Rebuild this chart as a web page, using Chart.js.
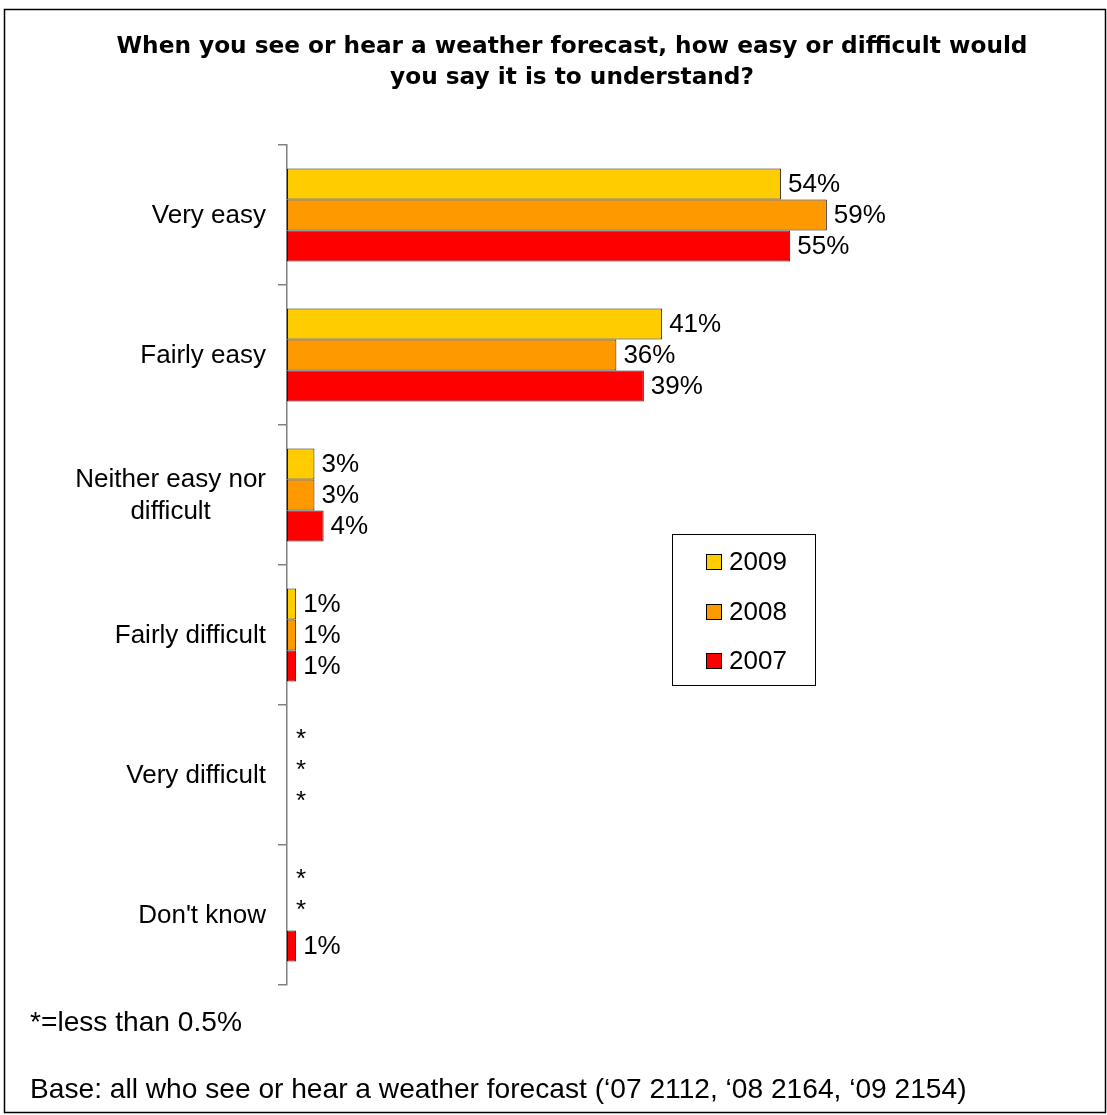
<!DOCTYPE html>
<html>
<head>
<meta charset="utf-8">
<script src="https://cdn.jsdelivr.net/npm/chart.js@4/dist/chart.umd.min.js"></script>
<style>
  html, body { margin: 0; padding: 0; background: #ffffff; }
  #wrap { width: 1107px; height: 1115px; position: relative; }
</style>
</head>
<body>
<div id="wrap"><canvas id="c" width="1107" height="1115"></canvas></div>
<script>
// ---- data ----
const categories = [
  ["Very easy"],
  ["Fairly easy"],
  ["Neither easy nor", "difficult"],
  ["Fairly difficult"],
  ["Very difficult"],
  ["Don't know"]
];
const seriesNames = ["2009", "2008", "2007"];
// 0 means less than 0.5% (shown as "*")
const values2009 = [54, 41, 3, 1, 0, 0];
const values2008 = [59, 36, 3, 1, 0, 0];
const values2007 = [55, 39, 4, 1, 0, 1];
const titleLines = [
  "When you see or hear a weather forecast, how easy or difficult would",
  "you say it is to understand?"
];
const noteText = "*=less than 0.5%";
const baseText = "Base: all who see or hear a weather forecast (\u201807 2112, \u201808 2164, \u201809 2154)";

const colors = ["#FFCC00", "#FF9900", "#FF0000"];
const FONT = "'Liberation Sans', Arial, sans-serif";
const TFONT = "'DejaVu Sans', Verdana, sans-serif";

function fitSize(ctx, text, family, weight, target) {
  ctx.font = weight + " 20px " + family;
  return 20 * target / ctx.measureText(text).width;
}

const decorPlugin = {
  id: 'decor',
  afterDraw(chart) {
    const ctx = chart.ctx;
    const yScale = chart.scales.y;
    ctx.save();
    // outer frame
    ctx.strokeStyle = '#000';
    ctx.lineWidth = 1.5;
    ctx.strokeRect(4.5, 9.5, 1101, 1103);

    // title
    ctx.fillStyle = '#000';
    const ts = fitSize(ctx, titleLines[0], TFONT, 'bold', 911);
    ctx.font = "bold " + ts.toFixed(2) + "px " + TFONT;
    ctx.textAlign = 'center';
    ctx.textBaseline = 'middle';
    ctx.fillText(titleLines[0], 572, 47);
    ctx.fillText(titleLines[1], 572, 78);

    // category labels
    ctx.font = "26px " + FONT;
    const rightEdge = 266;
    categories.forEach((lines, i) => {
      const cy = yScale.getPixelForValue(i);
      let widest = 0;
      lines.forEach(l => { widest = Math.max(widest, ctx.measureText(l).width); });
      const cx = rightEdge - widest / 2;
      const lh = 32;
      const y0 = cy - (lines.length - 1) * lh / 2;
      ctx.textAlign = 'center';
      lines.forEach((l, k) => ctx.fillText(l, cx, y0 + k * lh + 1));
    });

    // value labels
    ctx.textAlign = 'left';
    chart.data.datasets.forEach((ds, di) => {
      const meta = chart.getDatasetMeta(di);
      meta.data.forEach((el, i) => {
        const v = ds.data[i];
        if (v === 0) {
          ctx.fillText('*', el.x + 9, el.y - 4);
        } else {
          ctx.fillText(v + '%', el.x + 7, el.y + 1);
        }
      });
    });

    // legend
    ctx.lineWidth = 1;
    ctx.strokeStyle = '#000';
    ctx.strokeRect(672.5, 534.5, 143, 151);
    const legY = [562, 612, 661];
    seriesNames.forEach((n, k) => {
      ctx.fillStyle = colors[k];
      ctx.fillRect(706, legY[k] - 8, 15, 15);
      ctx.strokeStyle = '#000';
      ctx.strokeRect(706.5, legY[k] - 7.5, 15, 15);
      ctx.fillStyle = '#000';
      ctx.font = "26px " + FONT;
      ctx.textAlign = 'left';
      ctx.fillText(n, 729, legY[k] + 1);
    });

    // footnotes
    const fs = fitSize(ctx, baseText, FONT, 'normal', 937);
    ctx.font = fs.toFixed(2) + "px " + FONT;
    ctx.textAlign = 'left';
    ctx.fillText(noteText, 30, 1023);
    ctx.fillText(baseText, 30, 1090);
    ctx.restore();
  }
};

new Chart(document.getElementById('c'), {
  type: 'bar',
  data: {
    labels: categories.map(c => c.join(' ')),
    datasets: [
      { label: seriesNames[0], data: values2009, backgroundColor: colors[0] },
      { label: seriesNames[1], data: values2008, backgroundColor: colors[1] },
      { label: seriesNames[2], data: values2007, backgroundColor: colors[2] }
    ].map(d => Object.assign(d, {
      borderColor: '#1a1a1a', borderWidth: 1, borderSkipped: false,
      categoryPercentage: 0.664, barPercentage: 1.0
    }))
  },
  options: {
    responsive: false,
    animation: false,
    indexAxis: 'y',
    layout: { padding: { left: 0, right: 179.5, top: 145, bottom: 130 } },
    plugins: { legend: { display: false }, tooltip: { enabled: false }, title: { display: false } },
    scales: {
      x: { display: false, min: 0, max: 70 },
      y: {
        grid: { drawOnChartArea: false, offset: true, tickLength: 9, color: '#808080', lineWidth: 1.5 },
        border: { color: '#808080', width: 1.5 },
        ticks: { display: false },
        afterFit(scale) { scale.width = 287; }
      }
    }
  },
  plugins: [decorPlugin]
});
</script>
</body>
</html>
